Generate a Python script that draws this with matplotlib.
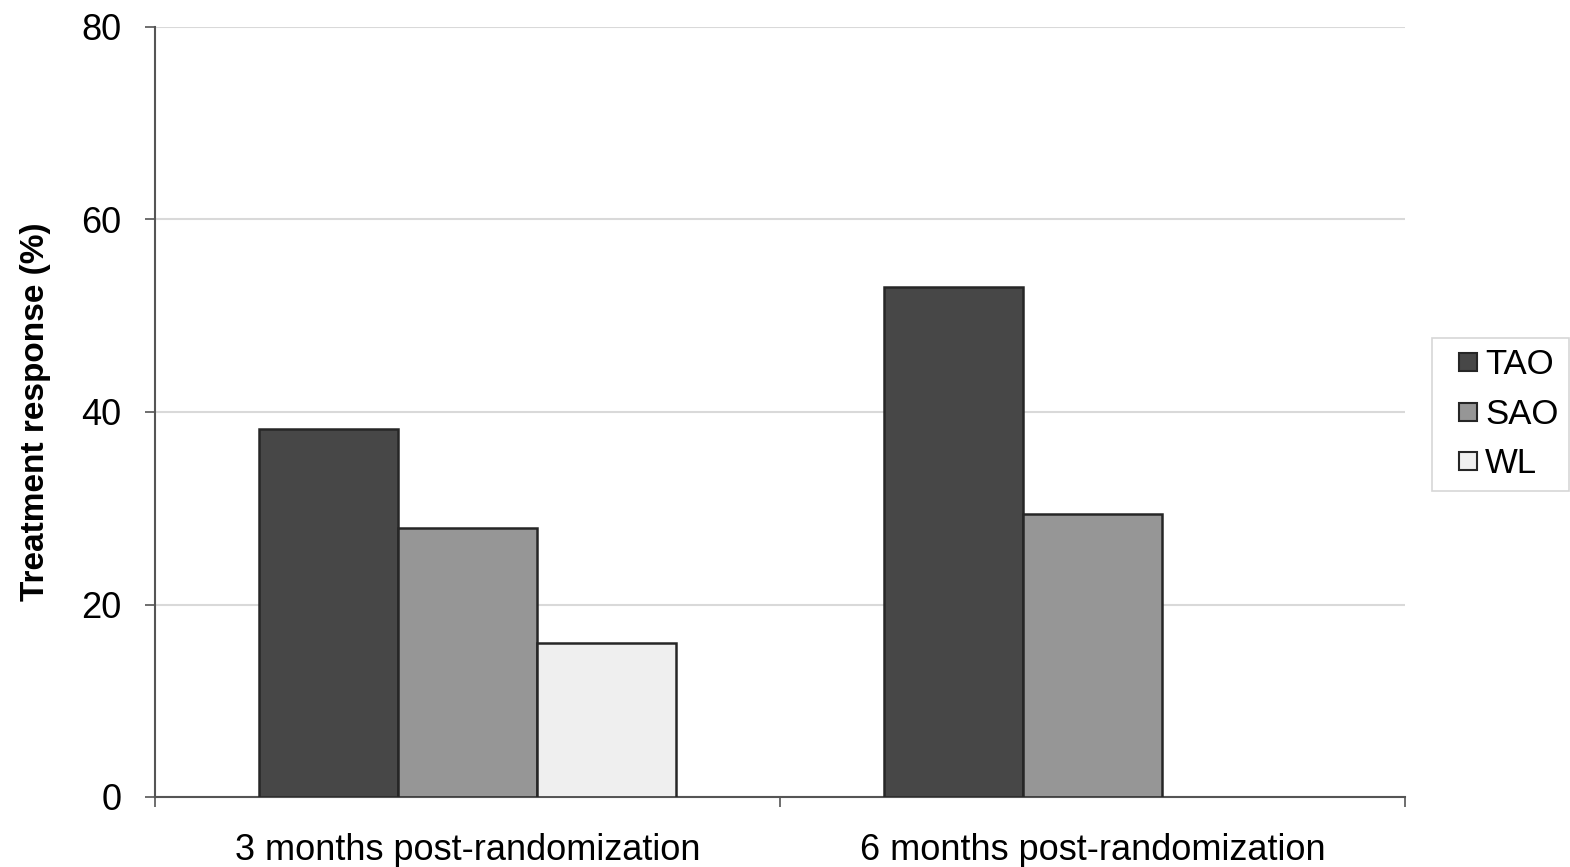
import matplotlib
matplotlib.use("Agg")
import matplotlib.pyplot as plt
from matplotlib.lines import Line2D
import numpy as np

plt.rcParams['font.family'] = ['Liberation Sans', 'DejaVu Sans']

categories = ['3 months post-randomization', '6 months post-randomization']
groups = ['TAO', 'SAO', 'WL']
tao = [38.2, 53.0]
sao = [27.9, 29.4]
wl = [16.0, 0.0]
colors = ['#474747', '#969696', '#efefef']

fig = plt.figure(figsize=(15.7, 8.67), dpi=100)
ax = fig.add_axes([155/1570, 1-797/867, 1250/1570, 770/867])

x = np.arange(len(categories))
w = 0.222
for i, (vals, c, name) in enumerate(zip([tao, sao, wl], colors, groups)):
    xs = x + (i - 1) * w
    keep = [j for j, v in enumerate(vals) if v > 0]
    ax.bar(xs[keep], [vals[j] for j in keep], width=w, color=c,
           edgecolor='#262626', linewidth=1.8, label=name, zorder=3)

ax.set_xlim(-0.5, 1.5)
ax.set_ylim(0, 80)
ax.set_yticks([0, 20, 40, 60, 80])
ax.yaxis.grid(True, color='#d9d9d9', linewidth=1.5, zorder=0)

ax.set_xticks([0, 1])
ax.set_xticklabels(categories, fontsize=26)
ax.set_xticks([-0.5, 0.5, 1.5], minor=True)
ax.tick_params(axis='x', which='major', length=0, pad=26)
ax.tick_params(axis='x', which='minor', length=7, width=1.2, color='#555555', direction='out')
ax.tick_params(axis='y', labelsize=26, length=7, width=1.2, color='#555555', pad=17)

for s in ['top', 'right']:
    ax.spines[s].set_visible(False)
for s in ['left', 'bottom']:
    ax.spines[s].set_color('#555555')
    ax.spines[s].set_linewidth(1.5)

ax.set_ylabel('Treatment response (%)', fontsize=24, fontweight='bold', labelpad=22)

# small square markers for the legend keys
handles = [Line2D([], [], marker='s', linestyle='none', markersize=12.5,
                  markerfacecolor=c, markeredgecolor='#262626', markeredgewidth=1.5)
           for c in colors]
leg = ax.legend(handles, groups, loc='center left', bbox_to_anchor=(1.0216, 0.497),
                fontsize=25, frameon=True, fancybox=False, edgecolor='#cccccc',
                handlelength=1.48, handletextpad=-0.25,
                labelspacing=0.48, borderpad=0.3, borderaxespad=0)
leg.get_frame().set_linewidth(1.2)

fig.savefig('out.png', dpi=100)
